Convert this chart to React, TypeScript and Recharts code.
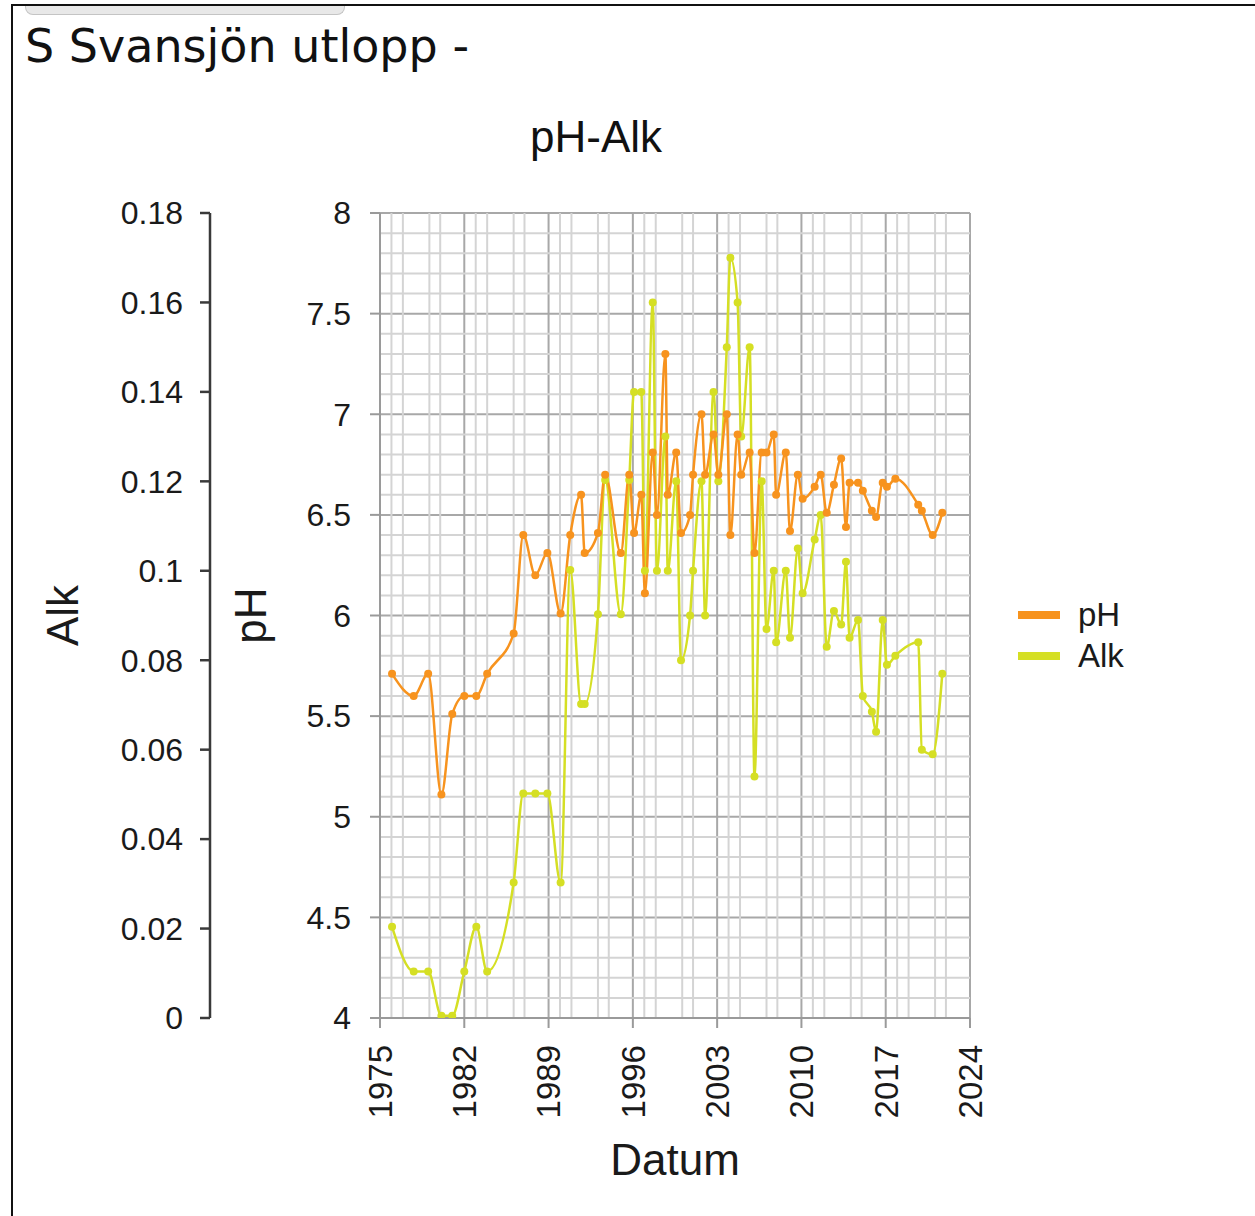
import React from "react";
import {
  LineChart,
  Line,
  XAxis,
  YAxis,
  CartesianGrid,
  ReferenceLine,
  Legend,
} from "recharts";

// sampling dates (decimal years) with pH and alkalinity
const YEARS = [
  1976.0, 1977.8, 1979.0, 1980.1, 1981.0, 1982.0, 1983.0, 1983.9, 1986.1, 1986.9,
  1987.9, 1988.9, 1990.0, 1990.8, 1991.7, 1992.0, 1993.1, 1993.7, 1995.0, 1995.7,
  1996.1, 1996.7, 1997.0, 1997.65, 1998.0, 1998.7, 1998.9, 1999.6, 2000.0, 2000.75,
  2001.0, 2001.7, 2002.0, 2002.7, 2003.1, 2003.8, 2004.1, 2004.7, 2005.0, 2005.7,
  2006.1, 2006.7, 2007.1, 2007.7, 2007.9, 2008.7, 2009.05, 2009.7, 2010.1, 2011.1,
  2011.6, 2012.1, 2012.7, 2013.3, 2013.7, 2014.0, 2014.7, 2015.1, 2015.85, 2016.2,
  2016.75, 2017.1, 2017.8, 2019.7, 2020.0, 2020.9, 2021.7,
];

const PH = [
  5.71, 5.6, 5.71, 5.11, 5.51, 5.6, 5.6, 5.71, 5.91, 6.4,
  6.2, 6.31, 6.01, 6.4, 6.6, 6.31, 6.41, 6.7, 6.31, 6.7,
  6.41, 6.6, 6.11, 6.81, 6.5, 7.3, 6.6, 6.81, 6.41, 6.5,
  6.7, 7.0, 6.7, 6.9, 6.7, 7.0, 6.4, 6.9, 6.7, 6.81,
  6.31, 6.81, 6.81, 6.9, 6.6, 6.81, 6.42, 6.7, 6.58, 6.64,
  6.7, 6.51, 6.65, 6.78, 6.44, 6.66, 6.66, 6.62, 6.52, 6.49,
  6.66, 6.64, 6.68, 6.55, 6.52, 6.4, 6.51,
];

const ALK = [
  0.0204, 0.0104, 0.0104, 0.0005, 0.0005, 0.0104, 0.0204, 0.0104, 0.0303, 0.0502,
  0.0502, 0.0502, 0.0303, 0.1002, 0.0702, 0.0702, 0.0903, 0.1203, 0.0903, 0.1203,
  0.14, 0.14, 0.1, 0.16, 0.1, 0.13, 0.1, 0.12, 0.08, 0.09,
  0.1, 0.12, 0.09, 0.14, 0.12, 0.15, 0.17, 0.16, 0.13, 0.15,
  0.054, 0.12, 0.087, 0.1, 0.084, 0.1, 0.085, 0.105, 0.095, 0.107,
  0.1125, 0.083, 0.091, 0.088, 0.102, 0.085, 0.089, 0.072, 0.0685, 0.064,
  0.089, 0.079, 0.081, 0.084, 0.06, 0.059, 0.077,
];

const X_TICKS = [1975, 1982, 1989, 1996, 2003, 2010, 2017, 2024];
const PH_TICKS = [4, 4.5, 5, 5.5, 6, 6.5, 7, 7.5, 8];
const ALK_TICKS = [0, 0.02, 0.04, 0.06, 0.08, 0.1, 0.12, 0.14, 0.16, 0.18];
const MINOR_PH_STEPS = [0.1, 0.2, 0.3, 0.4];
const MINOR_YEAR_OFFSETS = [0.95, 1.9, 4.1, 5.0];

const PH_COLOR = "#F7931E";
const ALK_COLOR = "#D5DF24";
const FONT = '"Liberation Sans", Arial, sans-serif';

const data = YEARS.map((year, i) => ({ year, ph: PH[i], alk: ALK[i] }));

const minorPh = PH_TICKS.slice(0, -1).flatMap((t) =>
  MINOR_PH_STEPS.map((s) => Math.round((t + s) * 10) / 10)
);
const minorYears = X_TICKS.slice(0, -1).flatMap((t) =>
  MINOR_YEAR_OFFSETS.map((o) => t + o)
);

const fmt = (v: number) => String(Number(v.toFixed(2)));

const YearTick = ({ x, y, payload }: any) => (
  <text
    x={x}
    y={y}
    dy="0.36em"
    transform={`rotate(-90 ${x} ${y})`}
    textAnchor="end"
    fontSize={33}
    fontFamily={FONT}
    fill="#1a1a1a"
  >
    {payload.value}
  </text>
);

const sideTitle = (text: string, dx: number) => (props: any) => {
  const { x, y, height } = props.viewBox;
  const cx = x + dx;
  const cy = y + height / 2;
  return (
    <text
      x={cx}
      y={cy}
      transform={`rotate(-90 ${cx} ${cy})`}
      textAnchor="middle"
      dominantBaseline="central"
      fontSize={44}
      fontFamily={FONT}
      fill="#1a1a1a"
    >
      {text}
    </text>
  );
};

const bottomTitle = (props: any) => {
  const { x, y, width } = props.viewBox;
  return (
    <text
      x={x + width / 2}
      y={y + 157}
      textAnchor="middle"
      fontSize={44}
      fontFamily={FONT}
      fill="#1a1a1a"
    >
      Datum
    </text>
  );
};

const LegendBox = () => (
  <div style={{ fontFamily: FONT, fontSize: 33, color: "#1a1a1a" }}>
    {[
      { name: "pH", color: PH_COLOR },
      { name: "Alk", color: ALK_COLOR },
    ].map((item) => (
      <div
        key={item.name}
        style={{ display: "flex", alignItems: "center", height: 41 }}
      >
        <span
          style={{
            display: "inline-block",
            width: 42,
            height: 8,
            background: item.color,
            marginRight: 18,
          }}
        />
        <span>{item.name}</span>
      </div>
    ))}
  </div>
);

export default function App() {
  return (
    <div
      style={{
        position: "absolute",
        left: 0,
        top: 0,
        width: 1255,
        height: 1216,
        background: "#fff",
        overflow: "hidden",
      }}
    >
      {/* outer frame */}
      <div
        style={{
          position: "absolute",
          left: 11,
          top: 4,
          width: 1244,
          height: 2,
          background: "#111",
        }}
      />
      <div
        style={{
          position: "absolute",
          left: 11,
          top: 4,
          width: 2,
          height: 1212,
          background: "#111",
        }}
      />
      <div
        style={{
          position: "absolute",
          left: 25,
          top: 6,
          width: 318,
          height: 8,
          background: "#e8e8e8",
          border: "1px solid #c4c4c4",
          borderTop: "none",
          borderRadius: "0 0 8px 8px",
        }}
      />

      <svg
        width={1255}
        height={200}
        style={{ position: "absolute", left: 0, top: 0 }}
      >
        <text
          x={25}
          y={62}
          fontSize={46}
          fontFamily='"DejaVu Sans", Verdana, sans-serif'
          fill="#111"
        >
          S Svansjön utlopp -
        </text>
        <text
          x={596}
          y={152}
          textAnchor="middle"
          fontSize={44}
          fontFamily={FONT}
          fill="#111"
        >
          pH-Alk
        </text>
      </svg>

      <div style={{ position: "absolute", left: 20, top: 100 }}>
        <LineChart
          width={1220}
          height={1100}
          data={data}
          margin={{ top: 113, right: 270, bottom: 22, left: 0 }}
        >
          {minorPh.map((v) => (
            <ReferenceLine
              key={`h${v}`}
              y={v}
              stroke="#d4d4d4"
              strokeWidth={2}
            />
          ))}
          {minorYears.map((v) => (
            <ReferenceLine
              key={`v${v}`}
              x={v}
              stroke="#d4d4d4"
              strokeWidth={2}
            />
          ))}
          <CartesianGrid stroke="#a8a8a8" strokeWidth={2} />
          <XAxis
            dataKey="year"
            type="number"
            domain={[1975, 2024]}
            ticks={X_TICKS}
            allowDataOverflow
            height={160}
            stroke="#9a9a9a"
            strokeWidth={2}
            tickSize={10}
            tickMargin={17}
            tick={<YearTick />}
            label={bottomTitle}
          />
          <YAxis
            type="number"
            domain={[4, 8]}
            ticks={PH_TICKS}
            allowDataOverflow
            width={170}
            stroke="#9a9a9a"
            strokeWidth={2}
            tickSize={10}
            tickMargin={19}
            tickFormatter={fmt}
            tick={{ fontSize: 32, fontFamily: FONT, fill: "#1a1a1a" }}
            label={sideTitle("pH", 40)}
          />
          <YAxis
            yAxisId="alk"
            type="number"
            domain={[0, 0.18]}
            ticks={ALK_TICKS}
            allowDataOverflow
            width={190}
            stroke="#3a3a3a"
            strokeWidth={2.5}
            tickSize={10}
            tickMargin={17}
            tickFormatter={fmt}
            tick={{ fontSize: 32, fontFamily: FONT, fill: "#1a1a1a" }}
            label={sideTitle("Alk", 42)}
          />
          <Line
            type="monotone"
            dataKey="alk"
            yAxisId="alk"
            stroke={ALK_COLOR}
            strokeWidth={2.5}
            dot={{ r: 4, fill: ALK_COLOR, stroke: ALK_COLOR, strokeWidth: 0 }}
            activeDot={false}
            isAnimationActive={false}
          />
          <Line
            type="monotone"
            dataKey="ph"
            stroke={PH_COLOR}
            strokeWidth={2.5}
            dot={{ r: 4, fill: PH_COLOR, stroke: PH_COLOR, strokeWidth: 0 }}
            activeDot={false}
            isAnimationActive={false}
          />
          <Legend
            layout="vertical"
            align="center"
            verticalAlign="middle"
            content={<LegendBox />}
            wrapperStyle={{ left: 998, top: 494, width: 160 }}
          />
        </LineChart>
      </div>
    </div>
  );
}
